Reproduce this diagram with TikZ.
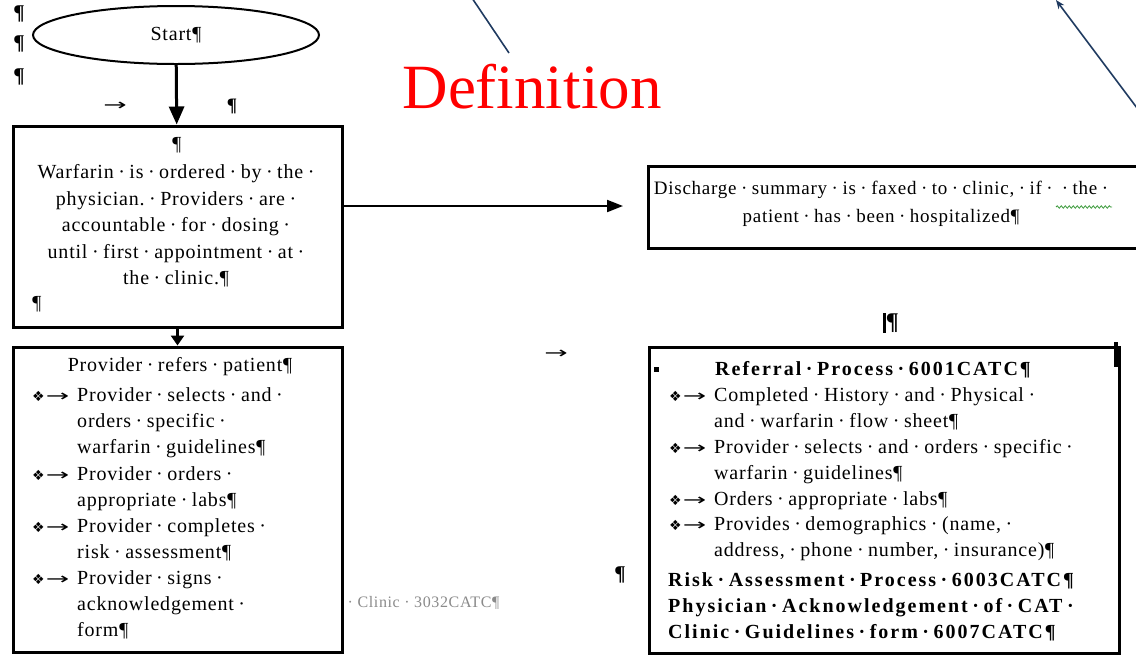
\documentclass[tikz,border=0pt]{standalone}
\usepackage{fontspec}
\setmainfont{Liberation Serif}
\newfontfamily\wf{Liberation Serif}[LetterSpace=4]
\newfontfamily\wfb{Liberation Serif Bold}[LetterSpace=10]
\newfontfamily\symf{DejaVu Sans}
\usetikzlibrary{shapes.geometric,arrows.meta,decorations.pathmorphing}
\definecolor{navy}{HTML}{1F3A60}
\definecolor{fmtgray}{HTML}{8A8A8A}
\definecolor{wavy}{HTML}{3C9A3C}
\newcommand\dotgap{4.5pt}
\newcommand\tabarrow{\scalebox{2}[1.15]{\symf\fontsize{14}{14}\selectfont →}}
\newcommand\bx{\makebox[46pt][l]{\hspace{1pt}{\symf\fontsize{14}{14}\selectfont ❖}\hspace{1pt}\tabarrow}}
\newcommand\ind{\hspace*{46pt}}
\catcode`\·=\active
\def·{\hspace{\dotgap}\char"B7\relax\hspace{\dotgap}}
\begin{document}
\begin{tikzpicture}[x=1pt,y=-1pt,
  box/.style={draw,line width=3pt,inner sep=0pt,anchor=north west},
  txt/.style={font=\wf\fontsize{20}{26.1}\selectfont,inner sep=0pt},
  btxt/.style={font=\wfb\fontsize{20}{26}\selectfont,inner sep=0pt},
  pil/.style={font=\bfseries\fontsize{21}{21}\selectfont,inner sep=0pt},
  flow/.style={line width=3pt,-{Triangle[length=18pt,width=15pt]}},
  navyline/.style={draw=navy,line width=1.6pt}]
\useasboundingbox (0,0) rectangle (1136,657);

% formatting marks at left
\node[pil] (p1) at (19,14) {¶};
\node[pil] (p2) at (19,44) {¶};
\node[pil] (p3) at (19,77) {¶};
\node[inner sep=0pt] (tab1) at (115,106) {\tabarrow};
\node[pil,font=\bfseries\fontsize{19}{19}\selectfont] (p4) at (232,106) {¶};

% start
\node[ellipse,draw,line width=2pt,minimum width=286pt,minimum height=58pt,inner sep=0pt,
      font=\wf\fontsize{20}{20}\selectfont] (start) at (176,35) {Start¶};

% warfarin box
\node[box,minimum width=329pt,minimum height=201pt] (warf) at (11.5,124.5) {};
\node[txt] (wp1) at (177,145) {¶};
\node[txt,align=center,font=\wf\fontsize{20}{26.5}\selectfont] (wtext) at (176,226) {%
Warfarin·is·ordered·by·the·\\
physician.·Providers·are·\\
accountable·for·dosing·\\
until·first·appointment·at·\\
the·clinic.¶};
\node[txt] (wp2) at (37,304) {¶};

% provider box
\node[box,minimum width=329pt,minimum height=305pt] (prov) at (11.5,345.5) {};
\node[txt] (ptitle) at (180,367) {Provider·refers·patient¶};
\node[txt,anchor=west,align=left] (plist) at (31,513.5) {%
\bx Provider·selects·and·\\
\ind orders·specific·\\
\ind warfarin·guidelines¶\\
\bx Provider·orders·\\
\ind appropriate·labs¶\\
\bx Provider·completes·\\
\ind risk·assessment¶\\
\bx Provider·signs·\\
\ind acknowledgement·\\
\ind form¶};
\node[txt,anchor=west,text=fmtgray,font=\wf\fontsize{16}{16}\selectfont] (clinic) at (343,603) {·Clinic·3032CATC¶};

% discharge box
\node[box,minimum width=500pt,minimum height=82pt] (disc) at (646.5,164.5) {};
\node[txt,align=center,font=\wf\fontsize{19}{28}\selectfont] (dtext) at (881,204) {%
Discharge·summary·is·faxed·to·clinic,·if··the·\\
patient·has·been·hospitalized¶};
\coordinate (wv1) at (1056,207);
\coordinate (wv2) at (1112,207);
\draw[draw=wavy,line width=0.8pt,decorate,decoration={snake,amplitude=1.2pt,segment length=4pt}] (wv1) -- (wv2);

% middle marks
\node[inner sep=0pt] (tab2) at (556,354) {\tabarrow};
\node[pil] (p5) at (620,575) {¶};
\node[inner sep=0pt,font=\bfseries\fontsize{24}{24}\selectfont] (p6) at (891,323) {\rule[-3pt]{2.5pt}{20pt}¶};
\coordinate (bar1) at (1116,342);
\coordinate (bar2) at (1116,367);
\draw[line width=4pt] (bar1) -- (bar2);

% referral box
\node[box,minimum width=470pt,minimum height=306pt] (ref) at (647.5,345.5) {};
\node[inner sep=0pt,fill=black,minimum size=5pt] (sq) at (656,369) {};
\node[btxt] (rtitle) at (873,370) {Referral·Process·6001CATC¶};
\node[txt,anchor=west,align=left,font=\wf\fontsize{20}{25.8}\selectfont] (rlist) at (668,474.5) {%
\bx Completed·History·and·Physical·\\
\ind and·warfarin·flow·sheet¶\\
\bx Provider·selects·and·orders·specific·\\
\ind warfarin·guidelines¶\\
\bx Orders·appropriate·labs¶\\
\bx Provides·demographics·(name,·\\
\ind address,·phone·number,·insurance)¶};
\node[btxt,anchor=west,align=left] (rbold) at (668,607) {%
Risk·Assessment·Process·6003CATC¶\\
Physician·Acknowledgement·of·CAT·\\
Clinic·Guidelines·form·6007CATC¶};

% connectors
\coordinate (discin) at (623,206);
\draw[flow] (start) -- (warf);
\draw[line width=2pt,-{Triangle[length=16pt,width=12pt]}] (warf.east |- discin) -- (discin);
\draw[line width=3pt,-{Triangle[length=10pt,width=13pt]}] (warf) -- (prov);

% definition and navy lines
\node[text=red,inner sep=0pt,font=\fontsize{63}{63}\selectfont] (defn) at (532,87) {Definition};
\coordinate (n1a) at (472,-2);
\coordinate (n1b) at (509,53);
\draw[navyline] (n1a) -- (n1b);
\coordinate (n2a) at (1056,0);
\coordinate (n2b) at (1143,116);
\draw[navyline,-{Stealth[length=9pt,width=7pt]}] (n2b) -- (n2a);
\end{tikzpicture}
\end{document}
